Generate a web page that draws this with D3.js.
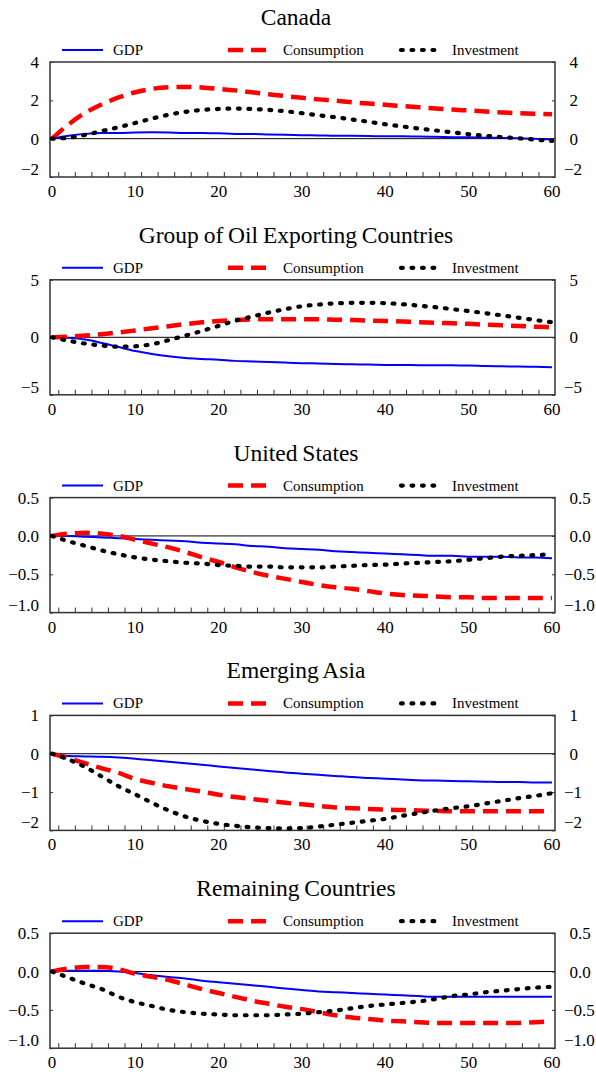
<!DOCTYPE html>
<html><head><meta charset="utf-8">
<script src="https://cdn.jsdelivr.net/npm/d3@7"></script>
<style>body{margin:0;background:#fff}svg{display:block}text{font-family:"Liberation Serif","Times New Roman",serif;fill:#000}</style>
</head><body>
<script>
const periods = [0,2,4,6,8,10,12,14,16,18,20,22,24,26,28,30,32,34,36,38,40,42,44,46,48,50,52,54,56,58,60];
const seriesNames = ["GDP","Consumption","Investment"];
const titles = ["Canada","Group of Oil Exporting Countries","United States","Emerging Asia","Remaining Countries"];
const yDomains = [[-2,4],[-5,5],[-1,0.5],[-2,1],[-1,0.5]];
const yTickVals = [[-2,0,2,4],[-5,0,5],[-1,-0.5,0,0.5],[-2,-1,0,1],[-1,-0.5,0,0.5]];
const yTickFmt = ["d","d",".1f","d",".1f"];
const xTickVals = [0,10,20,30,40,50,60];
const xMinorTicks = [1,3,5,7,9,11,13,15,17,19,21,23,25,27,29,31,33,35,37,39,41,43,45,47,49,51,53,55,57,59];

const canadaGDP = [0,0.15,0.25,0.3,0.3,0.32,0.33,0.32,0.3,0.3,0.28,0.25,0.25,0.22,0.2,0.18,0.17,0.15,0.15,0.14,0.12,0.12,0.11,0.1,0.08,0.07,0.05,0.04,0.02,0,-0.05];
const canadaCons = [0,0.75,1.35,1.8,2.15,2.42,2.6,2.68,2.7,2.67,2.6,2.52,2.42,2.32,2.22,2.13,2.05,1.98,1.9,1.83,1.77,1.7,1.64,1.58,1.52,1.47,1.42,1.37,1.33,1.3,1.27];
const canadaInv = [0,0.05,0.2,0.4,0.6,0.82,1.05,1.25,1.4,1.5,1.55,1.57,1.55,1.5,1.43,1.33,1.22,1.12,1.0,0.88,0.75,0.64,0.53,0.43,0.33,0.23,0.15,0.08,0.02,-0.05,-0.12];

const oilGDP = [0,-0.05,-0.2,-0.5,-0.85,-1.2,-1.45,-1.65,-1.8,-1.88,-1.95,-2.05,-2.1,-2.15,-2.2,-2.25,-2.28,-2.32,-2.35,-2.37,-2.4,-2.41,-2.42,-2.43,-2.44,-2.45,-2.5,-2.52,-2.54,-2.57,-2.6];
const oilCons = [0,0.05,0.15,0.27,0.42,0.6,0.78,0.97,1.15,1.3,1.42,1.5,1.55,1.57,1.58,1.58,1.56,1.53,1.5,1.46,1.42,1.37,1.32,1.27,1.22,1.17,1.1,1.04,0.98,0.92,0.87];
const oilInv = [0,-0.3,-0.55,-0.72,-0.82,-0.78,-0.6,-0.25,0.15,0.55,1.0,1.45,1.8,2.15,2.45,2.7,2.85,2.95,3.0,3.0,2.97,2.88,2.75,2.62,2.45,2.28,2.1,1.9,1.7,1.5,1.3];

const usGDP = [0,0,-0.01,-0.02,-0.03,-0.04,-0.05,-0.06,-0.07,-0.09,-0.1,-0.11,-0.13,-0.14,-0.16,-0.17,-0.18,-0.2,-0.21,-0.22,-0.23,-0.24,-0.25,-0.26,-0.26,-0.27,-0.27,-0.27,-0.28,-0.28,-0.29];
const usCons = [0,0.03,0.04,0.03,0,-0.05,-0.1,-0.15,-0.21,-0.28,-0.34,-0.41,-0.47,-0.52,-0.56,-0.6,-0.64,-0.67,-0.69,-0.72,-0.75,-0.77,-0.78,-0.79,-0.8,-0.8,-0.81,-0.81,-0.81,-0.81,-0.81];
const usInv = [0,-0.07,-0.13,-0.19,-0.24,-0.28,-0.31,-0.33,-0.35,-0.36,-0.38,-0.39,-0.4,-0.4,-0.41,-0.41,-0.41,-0.4,-0.39,-0.38,-0.375,-0.36,-0.35,-0.34,-0.33,-0.31,-0.29,-0.27,-0.26,-0.25,-0.24];

const asiaGDP = [0,-0.06,-0.07,-0.08,-0.1,-0.13,-0.17,-0.21,-0.25,-0.29,-0.33,-0.37,-0.41,-0.45,-0.49,-0.52,-0.55,-0.58,-0.61,-0.63,-0.65,-0.67,-0.69,-0.7,-0.71,-0.72,-0.73,-0.74,-0.74,-0.75,-0.75];
const asiaCons = [0,-0.12,-0.25,-0.38,-0.5,-0.66,-0.76,-0.85,-0.92,-0.99,-1.07,-1.13,-1.18,-1.23,-1.28,-1.32,-1.36,-1.4,-1.42,-1.44,-1.46,-1.47,-1.48,-1.49,-1.5,-1.5,-1.5,-1.5,-1.5,-1.5,-1.5];
const asiaInv = [0,-0.15,-0.35,-0.6,-0.85,-1.06,-1.28,-1.48,-1.64,-1.75,-1.83,-1.88,-1.92,-1.94,-1.95,-1.94,-1.9,-1.85,-1.8,-1.75,-1.7,-1.62,-1.55,-1.48,-1.42,-1.37,-1.3,-1.23,-1.16,-1.1,-1.03];

const remGDP = [0,0.01,0.01,0.01,0,-0.02,-0.05,-0.07,-0.09,-0.12,-0.14,-0.16,-0.18,-0.2,-0.22,-0.24,-0.26,-0.27,-0.28,-0.29,-0.3,-0.31,-0.32,-0.33,-0.33,-0.33,-0.33,-0.33,-0.33,-0.33,-0.33];
const remCons = [0,0.04,0.06,0.06,0.03,-0.03,-0.07,-0.11,-0.17,-0.23,-0.28,-0.33,-0.38,-0.42,-0.46,-0.49,-0.53,-0.57,-0.6,-0.62,-0.64,-0.65,-0.66,-0.67,-0.67,-0.67,-0.67,-0.67,-0.67,-0.66,-0.65];
const remInv = [0,-0.08,-0.16,-0.23,-0.33,-0.4,-0.45,-0.5,-0.53,-0.55,-0.56,-0.57,-0.57,-0.57,-0.56,-0.55,-0.53,-0.51,-0.48,-0.45,-0.43,-0.41,-0.39,-0.36,-0.32,-0.3,-0.27,-0.25,-0.23,-0.21,-0.2];

const panelData = [
  [canadaGDP, canadaCons, canadaInv],
  [oilGDP, oilCons, oilInv],
  [usGDP, usCons, usInv],
  [asiaGDP, asiaCons, asiaInv],
  [remGDP, remCons, remInv]
];

const W = 596, H = 1072;
const styles = [
  {stroke:"#0000ff", width:2, dash:null, cap:"butt"},
  {stroke:"#ff0000", width:4.5, dash:"15,8", cap:"butt"},
  {stroke:"#000000", width:4.2, dash:"1.8,8.7", cap:"round"}
];

const svg = d3.select("body").append("svg").attr("width", W).attr("height", H);
const boxL = 50, boxR = 555, boxT = 62, boxB = 177;
const x = d3.scaleLinear().domain([0,60]).range([52,552]);
const xTickScale = d3.scaleLinear().domain([0,61]).range([boxL, boxR]);
const panelH = 217.8;

titles.forEach((title, i) => {
  const g = svg.append("g").attr("transform", `translate(0,${i*panelH})`);
  const y = d3.scaleLinear().domain(yDomains[i]).range([boxB, boxT]);
  g.append("text").attr("x", 296).attr("y", 25).attr("text-anchor","middle")
    .style("font-size","23.5px").style("word-spacing","-1px").text(title);

  // legend
  const legX = [[62,103,113],[228,267,283],[401,438,452]];
  seriesNames.forEach((n, k) => {
    const s = styles[k];
    g.append("line").attr("x1", legX[k][0]).attr("x2", legX[k][1]).attr("y1", 50).attr("y2", 50)
      .attr("stroke", s.stroke).attr("stroke-width", s.width)
      .attr("stroke-dasharray", s.dash).attr("stroke-linecap", s.cap);
    g.append("text").attr("x", legX[k][2]).attr("y", 55).style("font-size","15px").text(n);
  });

  // box
  g.append("rect").attr("x", boxL).attr("y", boxT).attr("width", boxR-boxL).attr("height", boxB-boxT)
    .attr("fill","none").attr("stroke","#333").attr("stroke-width",1.5);
  // zero line
  g.append("line").attr("x1", boxL).attr("x2", boxR).attr("y1", y(0)).attr("y2", y(0))
    .attr("stroke","#000").attr("stroke-width",1);

  // x ticks (inward)
  const xAxis = d3.axisBottom(xTickScale).tickValues(xMinorTicks).tickSize(-5).tickFormat("");
  const xa = g.append("g").attr("transform",`translate(0,${boxB})`).call(xAxis);
  xa.select(".domain").remove();
  xa.selectAll(".tick line").attr("stroke","#333");
  xTickVals.forEach(v => {
    g.append("text").attr("x", x(v)).attr("y", 197).attr("text-anchor","middle")
      .style("font-size","17px").text(v);
  });

  // y ticks (inward, both sides)
  const ya = g.append("g").attr("transform",`translate(${boxL},0)`)
    .call(d3.axisLeft(y).tickValues(yTickVals[i]).tickSize(-3).tickFormat(""));
  ya.select(".domain").remove();
  ya.selectAll(".tick line").attr("stroke","#333");
  const yb = g.append("g").attr("transform",`translate(${boxR},0)`)
    .call(d3.axisRight(y).tickValues(yTickVals[i]).tickSize(-3).tickFormat(""));
  yb.select(".domain").remove();
  yb.selectAll(".tick line").attr("stroke","#333");

  // y labels both sides
  const fmt = d3.format(yTickFmt[i]);
  const lo = yDomains[i][0];
  yTickVals[i].forEach(v => {
    const yy = y(v) + 6 - (v === lo ? 8 : 0);
    g.append("text").attr("x", 39).attr("y", yy).attr("text-anchor","end")
      .style("font-size","17px").text(fmt(v));
    g.append("text").attr("x", v < 0 ? 564 : 569.5).attr("y", yy).attr("text-anchor","start")
      .style("font-size","17px").text(fmt(v));
  });

  // series lines
  panelData[i].forEach((vals, k) => {
    const s = styles[k];
    const line = d3.line().x((d, j) => x(periods[j])).y(d => y(d)).curve(d3.curveMonotoneX);
    g.append("path").datum(vals).attr("d", line).attr("fill","none")
      .attr("stroke", s.stroke).attr("stroke-width", s.width)
      .attr("stroke-dasharray", s.dash).attr("stroke-linecap", s.cap);
  });
});
</script>
</body></html>
